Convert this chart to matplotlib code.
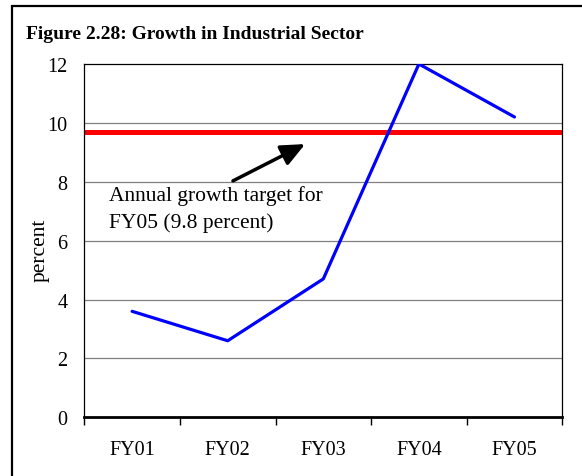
import matplotlib
matplotlib.use("Agg")
import matplotlib.pyplot as plt
from matplotlib.patches import Rectangle

plt.rcParams['font.family'] = ['Liberation Serif', 'DejaVu Serif']

# ----- data -----
years = ["FY01", "FY02", "FY03", "FY04", "FY05"]
growth = [3.6, 2.6, 4.7, 12.0, 10.2]
target = 9.7
y_ticks = [0, 2, 4, 6, 8, 10, 12]

W, H = 582, 477
fig = plt.figure(figsize=(W / 100, H / 100), dpi=100)
ax = fig.add_axes([84.3 / W, 1 - 418.3 / H, 478 / W, 353.3 / H])

x = list(range(len(years)))

# grid lines
for yv in y_ticks[1:-1]:
    ax.axhline(yv, color="#808080", lw=0.9, zorder=1)

ax.axhline(target, color="#ff0000", lw=3.6, zorder=2)
ax.plot(x, growth, color="#0000ff", lw=2.3, zorder=3, solid_capstyle="round")

ax.set_xlim(-0.5, len(years) - 0.5)
ax.set_ylim(0, 12)
ax.set_yticks(y_ticks)
ax.set_yticklabels([str(v) for v in y_ticks], fontsize=14.5)
ax.tick_params(axis="y", length=0, pad=12)

# x ticks at category boundaries, labels centred in categories
ax.set_xticks([i - 0.5 for i in range(len(years) + 1)])
ax.set_xticklabels([])
ax.set_xticks(x, minor=True)
ax.set_xticklabels(years, minor=True, fontsize=14.5)
ax.tick_params(axis="x", which="major", length=6, width=1, direction="out")
ax.tick_params(axis="x", which="minor", length=0, pad=16)

for side in ["top", "right", "left"]:
    ax.spines[side].set_linewidth(0.9)
ax.spines["bottom"].set_linewidth(2)

ax.set_ylabel("percent", fontsize=15.5)
ax.yaxis.set_label_coords(-0.072, 0.476)

# annotation arrow and text
ax.annotate("", xy=(1.81, 9.28), xytext=(1.055, 8.03),
            arrowprops=dict(arrowstyle="-|>,head_length=1.45,head_width=0.65",
                            color="black", lw=2.5, shrinkA=0, shrinkB=0),
            zorder=4)
ax.text(-0.24, 7.88, "Annual growth target for\nFY05 (9.8 percent)",
        fontsize=15.5, ha="left", va="top", linespacing=1.45, zorder=4)

fig.text(26 / W, 1 - 39 / H, "Figure 2.28: Growth in Industrial Sector",
         fontsize=14, fontweight="bold", ha="left", va="baseline")

# outer frame of the figure box
fig.patches.append(Rectangle((11.7 / W, -0.1), 1.2, 1 - 6.7 / H + 0.1,
                             transform=fig.transFigure, fill=False,
                             edgecolor="black", lw=1.6))

fig.savefig("out.png", dpi=100)
